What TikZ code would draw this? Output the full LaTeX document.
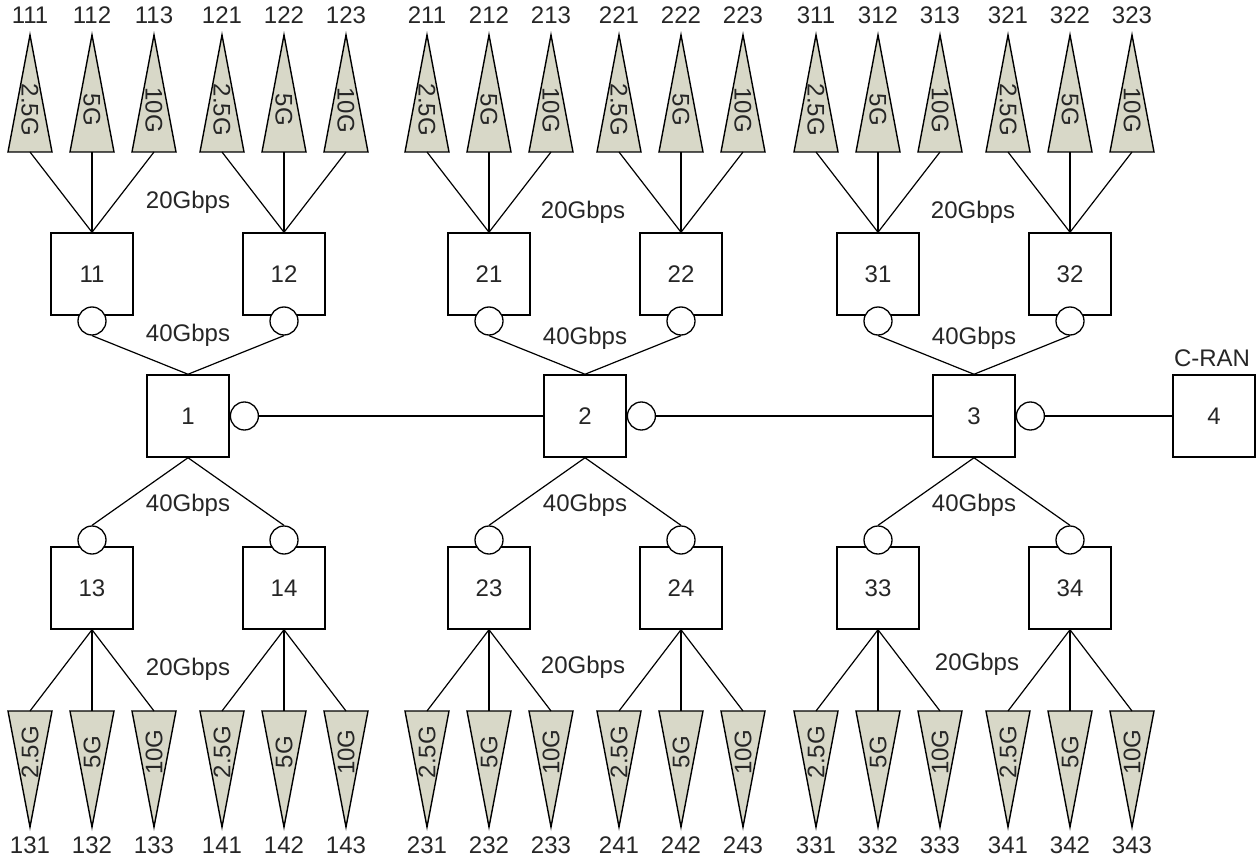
\documentclass[tikz,border=0pt]{standalone}
\usepackage{fontspec}
\setmainfont{Liberation Sans}
\definecolor{antfill}{RGB}{216,216,200}
\begin{document}
\begin{tikzpicture}[x=1pt,y=-1pt,
  every node/.style={font=\fontsize{24}{26}\selectfont, text=black!85},
  box/.style={draw, line width=1.5pt, minimum width=82pt, minimum height=82pt, inner sep=0pt},
  port/.style={draw, circle, line width=1.3pt, fill=white, minimum size=28pt, inner sep=0pt},
  link/.style={line width=1.2pt},
  ant/.style={draw, line width=1.4pt, fill=antfill, line join=miter},
  lbl/.style={inner sep=0pt}
]
\useasboundingbox (0,0) rectangle (1258,861);

% main boxes
\foreach \g/\mx in {1/188,2/585,3/974} {
  \node[box] (b\g) at (\mx,416) {\g};
}
\node[box] (b4) at (1214,416) {4};
\node[lbl] (cran) at (1212,358) {C-RAN};
\foreach \g in {1,2,3} {
  \node[port, anchor=west] (c\g) at (b\g.east) {};
}
\draw[link] (c1.east) -- (b2.west);
\draw[link] (c2.east) -- (b3.west);
\draw[link] (c3.east) -- (b4.west);

% groups
\foreach \g/\mx in {1/188,2/585,3/974} {
  \foreach \s/\dx/\ry/\cy in {1/-96/274/321, 2/96/274/321, 3/-96/588/540, 4/96/588/540} {
    \pgfmathsetmacro\bx{\mx+\dx}
    \node[box] (b\g\s) at (\bx,\ry) {\g\s};
    \node[port] (c\g\s) at (\bx,\cy) {};
    \ifnum\s<3
      \draw[link] (c\g\s.south) -- (b\g.north);
      \foreach \t/\tdx/\lab in {1/-62/2.5G, 2/0/5G, 3/62/10G} {
        \pgfmathsetmacro\tx{\bx+\tdx}
        \draw[ant] (\tx,35) -- (\tx+22,152) -- (\tx-22,152) -- cycle;
        \coordinate (t\g\s\t) at (\tx,152);
        \node[lbl, rotate=-90] (l\g\s\t) at (\tx,110) {\lab};
        \node[lbl] (n\g\s\t) at (\tx,15) {\g\s\t};
        \draw[link] (b\g\s.north) -- (t\g\s\t);
      }
    \else
      \draw[link] (b\g.south) -- (c\g\s.north);
      \foreach \t/\tdx/\lab in {1/-62/2.5G, 2/0/5G, 3/62/10G} {
        \pgfmathsetmacro\tx{\bx+\tdx}
        \draw[ant] (\tx,827) -- (\tx+22,711) -- (\tx-22,711) -- cycle;
        \coordinate (t\g\s\t) at (\tx,711);
        \node[lbl, rotate=90] (l\g\s\t) at (\tx,752) {\lab};
        \node[lbl] (n\g\s\t) at (\tx,845) {\g\s\t};
        \draw[link] (b\g\s.south) -- (t\g\s\t);
      }
    \fi
  }
}

% rate labels
\node[lbl] (r1a) at (188,202) {20Gbps};
\node[lbl] (r2a) at (583,212) {20Gbps};
\node[lbl] (r3a) at (973,212) {20Gbps};
\node[lbl] (r1b) at (188,335) {40Gbps};
\node[lbl] (r2b) at (585,338) {40Gbps};
\node[lbl] (r3b) at (974,338) {40Gbps};
\node[lbl] (r1c) at (188,505) {40Gbps};
\node[lbl] (r2c) at (585,505) {40Gbps};
\node[lbl] (r3c) at (974,505) {40Gbps};
\node[lbl] (r1d) at (188,669) {20Gbps};
\node[lbl] (r2d) at (583,667) {20Gbps};
\node[lbl] (r3d) at (977,664) {20Gbps};
\end{tikzpicture}
\end{document}
